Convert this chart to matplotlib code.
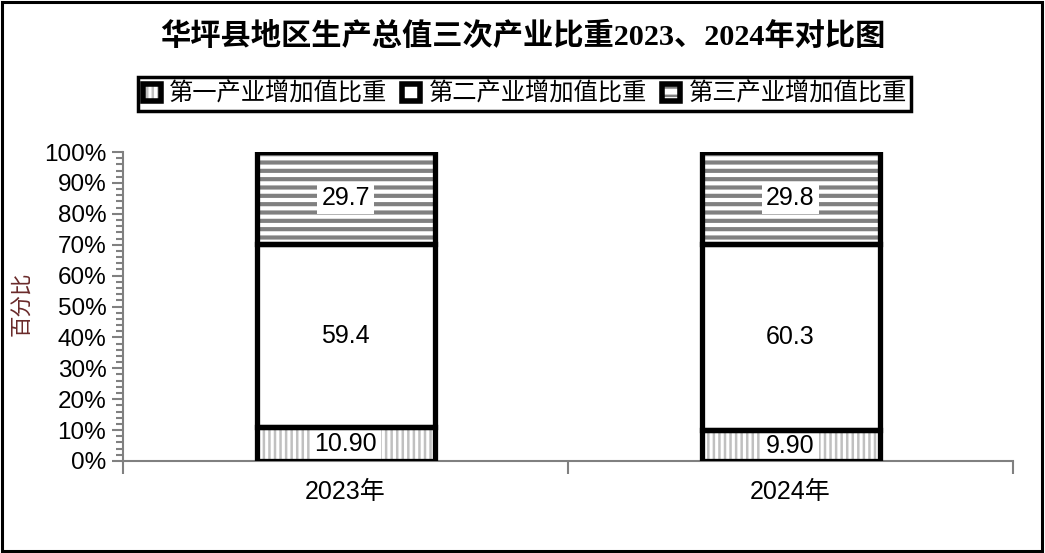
import matplotlib
matplotlib.use('Agg')
import matplotlib.pyplot as plt
from matplotlib.patches import Patch, Rectangle
from matplotlib.legend_handler import HandlerTuple
from matplotlib.ticker import FuncFormatter, MultipleLocator

plt.rcParams['font.family'] = ['Liberation Sans', 'Noto Sans CJK SC', 'DejaVu Sans']

# data
years = ['2023年', '2024年']
primary = [10.9, 9.9]     # 第一产业
secondary = [59.4, 60.3]  # 第二产业
tertiary = [29.7, 29.8]   # 第三产业
series_names = ['第一产业增加值比重', '第二产业增加值比重', '第三产业增加值比重']
title = '华坪县地区生产总值三次产业比重2023、2024年对比图'

fig = plt.figure(figsize=(10.45, 5.53), dpi=100)
ax = fig.add_axes([0.1177, 0.1664, 0.8517, 0.5587])

x = list(range(len(years)))
w = 0.4
series = [primary, secondary, tertiary]
hatches = ['|||', None, '--']
hcolors = ['#c0c0c0', 'white', '#808080']
hwidths = [1.8, 1.0, 3.0]
fmts = ['{:.2f}', '{:.1f}', '{:.1f}']

bottom = [0.0] * len(years)
for vals, h, hc, hw, fm in zip(series, hatches, hcolors, hwidths, fmts):
    plt.rcParams['hatch.linewidth'] = hw
    # hatched fill layer
    ax.bar(x, vals, w, bottom=bottom, color='white', edgecolor=hc, hatch=h,
           linewidth=0, zorder=2)
    # thick black outline layer
    ax.bar(x, vals, w, bottom=bottom, fill=False, edgecolor='black',
           linewidth=3.8, zorder=3)
    for xi, v, b in zip(x, vals, bottom):
        ax.text(xi, b + v / 2, fm.format(v), ha='center', va='center',
                fontsize=18, zorder=2.5,
                bbox=dict(facecolor='white', edgecolor='none', pad=3))
    bottom = [b + v for b, v in zip(bottom, vals)]

ax.set_xlim(-0.5, len(years) - 0.5)
ax.set_ylim(0, 100)

ax.yaxis.set_major_locator(MultipleLocator(10))
ax.yaxis.set_minor_locator(MultipleLocator(2))
ax.yaxis.set_major_formatter(FuncFormatter(lambda v, p: f'{v:.0f}%'))
ax.tick_params(axis='y', which='major', length=8, width=1.5, color='#808080',
               labelsize=17.5, pad=4)
ax.tick_params(axis='y', which='minor', length=5, width=1.5, color='#808080')

ax.set_xticks([i - 0.5 for i in range(len(years) + 1)])
ax.set_xticklabels([])
ax.set_xticks(x, minor=True)
ax.set_xticklabels(years, minor=True)
ax.tick_params(axis='x', which='major', length=9, width=1.5, color='#808080')
ax.tick_params(axis='x', which='minor', length=0, labelsize=18, pad=14)

for s in ['top', 'right']:
    ax.spines[s].set_visible(False)
for s in ['left', 'bottom']:
    ax.spines[s].set_color('#808080')
    ax.spines[s].set_linewidth(1.5)

fig.text(0.021, 0.45, '百分比', rotation=90, ha='center', va='center',
         fontsize=15.5, color='#6a2a2a', family=['Noto Sans CJK SC'])

fig.text(0.5, 0.935, title, ha='center', va='center', fontsize=21.8,
         fontweight='bold', family=['Liberation Serif', 'Noto Sans CJK SC'])

# legend
plt.rcParams['hatch.linewidth'] = 1.8
handles = []
for h, hc in zip(hatches, hcolors):
    fill_p = Patch(facecolor='white', edgecolor=hc, hatch=h, linewidth=0)
    edge_p = Patch(facecolor='none', edgecolor='black', linewidth=4)
    handles.append((fill_p, edge_p))
leg = fig.legend(handles, series_names, loc='center', bbox_to_anchor=(0.502, 0.830),
                 ncol=3, handler_map={tuple: HandlerTuple(ndivide=1)},
                 prop={'family': ['Noto Sans CJK SC'], 'size': 17.5},
                 handlelength=0.75, handleheight=0.75, handletextpad=0.35,
                 columnspacing=0.6, borderpad=0.18, borderaxespad=0,
                 fancybox=False, framealpha=1, edgecolor='black')
leg.get_frame().set_linewidth(2.5)

fig.patches.append(Rectangle((0.0015, 0.003), 0.9955, 0.994, transform=fig.transFigure,
                             fill=False, edgecolor='black', linewidth=2.2))

fig.savefig('out.png', dpi=100)
